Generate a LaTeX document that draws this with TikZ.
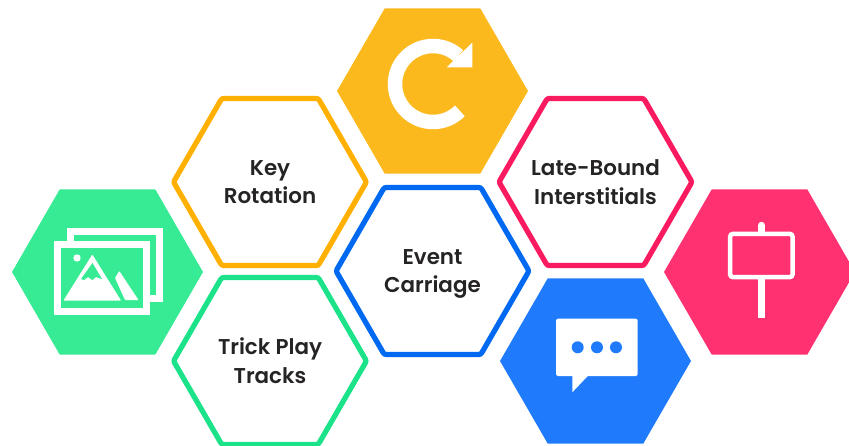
\documentclass[tikz,border=0pt]{standalone}
\usepackage{fontspec}
\setmainfont{Poppins}[BoldFont={Poppins SemiBold}]
\usetikzlibrary{shapes.geometric}

\definecolor{fillgreen}{HTML}{36EB94}
\definecolor{fillyellow}{HTML}{FBB91E}
\definecolor{fillblue}{HTML}{1F7BFC}
\definecolor{fillpink}{HTML}{FF3171}
\definecolor{linegreen}{HTML}{1CE38A}
\definecolor{lineyellow}{HTML}{FFB000}
\definecolor{lineblue}{HTML}{0069F2}
\definecolor{linepink}{HTML}{FA1A60}
\definecolor{labelgray}{HTML}{252324}

\tikzset{
  hexfill/.style={regular polygon,regular polygon sides=6,
    inner sep=0pt,minimum size=3.82cm,fill=#1},
  hexline/.style={regular polygon,regular polygon sides=6,
    inner sep=0pt,minimum size=3.86cm,draw=#1,line width=0.105cm,rounded corners=1.2pt},
  hexlabel/.style={text=labelgray,align=center,inner sep=0pt,text depth=0pt,
    font=\fontsize{12.2}{16.4}\selectfont\bfseries},
  iconline/.style={draw=white,line width=#1},
  iconfill/.style={fill=white,rounded corners=0.4pt}
}

\begin{document}
\begin{tikzpicture}[x=0.02cm,y=-0.02cm]

\useasboundingbox (0,0) rectangle (849,446);
\clip (0,0) rectangle (849,446);

% Filled hexagons
\node[hexfill=fillgreen] (images) at (107.5,272) {};
\node[hexfill=fillyellow] (refresh) at (432.5,91) {};
\node[hexfill=fillblue] (chat) at (595.5,361) {};
\node[hexfill=fillpink] (sign) at (759.5,272) {};

% Outlined hexagons
\node[hexline=lineyellow] (keyrot) at (270,182) {};
\node[hexline=linepink] (late) at (595.5,182) {};
\node[hexline=lineblue] (event) at (432.5,271) {};
\node[hexline=linegreen] (trick) at (270,361) {};

\node[hexlabel] (keyrot text) at (keyrot.center) {Key\\Rotation};
\node[hexlabel] (late text) at (late.center) {Late-Bound\\Interstitials};
\node[hexlabel] (event text) at (event.center) {Event\\Carriage};
\node[hexlabel] (trick text) at (trick.center) {Trick Play\\Tracks};

% Pictures icon
\draw[iconline=0.14cm] (70.5,241) -- (70.5,231.5) -- (159.5,231.5) -- (159.5,298.5) -- (150,298.5);
\draw[iconline=0.14cm] (57.5,244.5) rectangle (146.5,311.5);
\fill[white] (77,258) circle (3.7);
\fill[iconfill] (92.3,254.5) -- (121,300.5) -- (63.5,300.5) -- cycle;
\fill[fillgreen] (92.5,263) -- (102,279) -- (96,277) -- (92.5,280) -- (88,277) -- (84,280) -- (81,279) -- cycle;
\fill[iconfill] (115,278) -- (119.3,271) -- (138.5,300) -- (125,300) -- cycle;

% Refresh icon
\draw[iconline=0.29cm] (433,84) ++(45:38) arc[start angle=45,end angle=312,radius=38];
\fill[white] (472.3,42.7) -- (472.3,67.3) -- (446.7,67.3) -- cycle;

% Chat icon
\fill[iconfill,rounded corners=1.2pt] (556,318.7) rectangle (637.7,376);
\fill[white] (572.3,375) -- (572.3,392.3) -- (588.7,375) -- cycle;
\foreach \dotx in {577.7,597,616}
  \fill[fillblue] (\dotx,347.3) circle (6);

% Sign icon
\draw[iconline=0.09cm,rounded corners=1.5pt] (730.2,233.9) rectangle (792.5,277.1);
\draw[iconline=0.15cm,line cap=round] (761.5,225.5) -- (761.5,232);
\draw[iconline=0.15cm] (761.5,279) -- (761.5,317.7);

\end{tikzpicture}
\end{document}
